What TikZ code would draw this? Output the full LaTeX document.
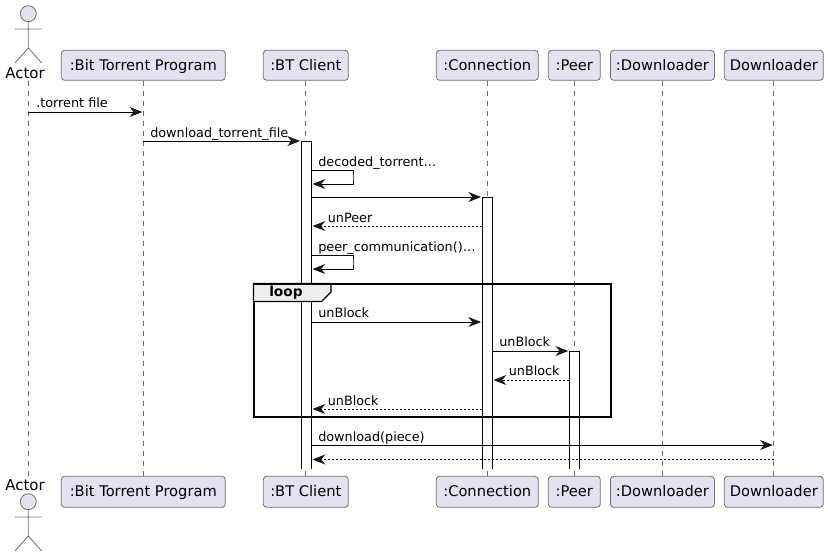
\documentclass[tikz,border=0pt]{standalone}
\usepackage{fontspec}
\setmainfont{DejaVu Sans}
\usetikzlibrary{arrows.meta}
\definecolor{partfill}{HTML}{E2E2F0}
\definecolor{inkdark}{HTML}{181818}
\definecolor{inkgray}{HTML}{6E6E6E}
\definecolor{tabfill}{HTML}{EEEEEE}
\tikzset{
  partbox/.style={draw=inkgray,line width=0.6pt,fill=partfill,rounded corners=2.5pt,inner sep=0pt,
    minimum height=22.5pt,text height=8pt,text depth=0.25pt,font=\fontsize{11}{12}\selectfont,text=black},
  actorname/.style={inner sep=0pt,font=\fontsize{11.2}{12}\selectfont,text=black},
  lifeline/.style={draw=inkgray,line width=0.55pt,dash pattern=on 3.75pt off 3.75pt},
  actbar/.style={fill=white,inner sep=0pt,minimum width=7.5pt},
  barside/.style={draw=black,line width=0.75pt},
  msg/.style={draw=black,line width=0.75pt,shorten >=0.75pt,
    -{Stealth[length=9.5pt,width=7.5pt,inset=3pt,color=inkdark]}},
  backmsg/.style={msg,dash pattern=on 1.5pt off 1.5pt},
  msglabel/.style={anchor=base west,inner sep=0pt,font=\fontsize{9.6}{12}\selectfont,text=black},
  actorline/.style={draw=inkgray,line width=0.6pt},
}
\begin{document}
\begin{tikzpicture}[x=0.75pt,y=0.75pt,yscale=-1,xscale=1]
\useasboundingbox (0,0) rectangle (828,557);

% participants, top row
\node [actorname] (actortop) at (25,73) {Actor};
\node [partbox,minimum width=123pt] (programtop) at (143.3,65.3) {:Bit Torrent Program};
\node [partbox,minimum width=63.75pt] (clienttop) at (305.8,65.3) {:BT Client};
\node [partbox,minimum width=76.5pt] (conntop) at (487.3,65.3) {:Connection};
\node [partbox,minimum width=39pt] (peertop) at (574.3,65.3) {:Peer};
\node [partbox,minimum width=78pt] (loadtop) at (662.4,65.3) {:Downloader};
\node [partbox,minimum width=74.25pt] (loadertop) at (773.8,65.3) {Downloader};

% participants, bottom row
\node [actorname] (actorbot) at (25,485) {Actor};
\node [partbox,minimum width=123pt,minimum height=23.25pt] (programbot) at (143.3,491.8) {:Bit Torrent Program};
\node [partbox,minimum width=63.75pt,minimum height=23.25pt] (clientbot) at (305.8,491.8) {:BT Client};
\node [partbox,minimum width=76.5pt,minimum height=23.25pt] (connbot) at (487.3,491.8) {:Connection};
\node [partbox,minimum width=39pt,minimum height=23.25pt] (peerbot) at (574.3,491.8) {:Peer};
\node [partbox,minimum width=78pt,minimum height=23.25pt] (loadbot) at (662.4,491.8) {:Downloader};
\node [partbox,minimum width=74.25pt,minimum height=23.25pt] (loaderbot) at (773.8,491.8) {Downloader};

% actor figures
\draw [actorline,fill=partfill] (28.3,13.7) circle (8);
\draw [actorline] (28.3,21.7) -- (28.3,48) (15,29) -- (41.7,29) (15,63) -- (28.3,48) -- (41.7,63);
\draw [actorline,fill=partfill] (28.3,501.7) circle (8);
\draw [actorline] (28.3,509.7) -- (28.3,536) (15,517) -- (41.7,517) (15,551) -- (28.3,536) -- (41.7,551);

% lifelines
\coordinate (actorup) at (28.3,81);
\coordinate (actordown) at (28.3,476.5);
\draw [lifeline] (actorup) -- (actordown);
\draw [lifeline] (programtop.south) -- (programbot.north);
\draw [lifeline] ([xshift=-0.4pt]clienttop.south) -- ([xshift=-0.4pt]clientbot.north);
\draw [lifeline] (conntop.south) -- (connbot.north);
\draw [lifeline] (peertop.south) -- (peerbot.north);
\draw [lifeline] (loadtop.south) -- (loadbot.north);
\draw [lifeline] (loadertop.south) -- (loaderbot.north);

% activation bars, open at the bottom
\node [actbar,minimum height=245.6pt] (clientbar) at (306.3,305.3) {};
\node [actbar,minimum height=203.6pt] (connbar) at (487.3,333.3) {};
\node [actbar,minimum height=88.1pt] (peerbar) at (574.5,410.3) {};
\draw [barside] (clientbar.south west) -- (clientbar.north west) -- (clientbar.north east) -- (clientbar.south east);
\draw [barside] (connbar.south west) -- (connbar.north west) -- (connbar.north east) -- (connbar.south east);
\draw [barside] (peerbar.south west) -- (peerbar.north west) -- (peerbar.north east) -- (peerbar.south east);

% loop frame
\coordinate (framea) at (253.5,283.5);
\coordinate (frameb) at (610.5,417);
\draw [draw=black,line width=1.5pt] (framea) rectangle (frameb);
\coordinate (tabend) at (331,292);
\draw [draw=black,line width=1pt,fill=tabfill] (framea) -| (tabend) -- (321.5,301.5) -- (253.5,301.5) -- cycle;
\draw [draw=black,line width=1.5pt] (framea) -- (frameb |- framea);
\node [anchor=base west,inner sep=0pt,font=\fontsize{10.3}{12}\selectfont\bfseries] (looplabel) at (269,296.7) {loop};

% messages
\draw [msg] (actorup |- 0,112) -- (programtop.south |- 0,112);
\node [msglabel] (torrentlabel) at (36,107.5) {.torrent file};

\draw [msg] (programtop.south |- 0,141) -- (clientbar.west |- 0,141);
\node [msglabel] (downloadlabel) at (150,137) {download\_torrent\_file};

\coordinate (selfa) at (353,177);
\draw [msg] (clientbar.east |- 0,170) -| (selfa) |- (clientbar.east |- 0,184);
\node [msglabel] (decodedlabel) at (318,166) {decoded\_torrent…};

\draw [msg] (clientbar.east |- 0,197) -- (connbar.west |- 0,197);

\draw [backmsg] (connbar.west |- 0,226) -- (clientbar.east |- 0,226);
\node [msglabel] (unpeerlabel) at (327.5,222) {unPeer};

\coordinate (selfb) at (353,262);
\draw [msg] (clientbar.east |- 0,255) -| (selfb) |- (clientbar.east |- 0,269);
\node [msglabel] (communlabel) at (318,251) {peer\_communication()…};

\draw [msg] (clientbar.east |- 0,322) -- (connbar.west |- 0,322);
\node [msglabel] (blocklabela) at (318,317.5) {unBlock};

\draw [msg] (connbar.east |- 0,351) -- (peerbar.west |- 0,351);
\node [msglabel] (blocklabelb) at (499,346.5) {unBlock};

\draw [backmsg] (peerbar.west |- 0,380) -- (connbar.east |- 0,380);
\node [msglabel] (blocklabelc) at (508.5,375.5) {unBlock};

\draw [backmsg] (connbar.west |- 0,409) -- (clientbar.east |- 0,409);
\node [msglabel] (blocklabeld) at (327.5,405) {unBlock};

\draw [msg] (clientbar.east |- 0,445) -- (loadertop.south |- 0,445);
\node [msglabel] (piecelabel) at (318,441) {download(piece)};

\draw [backmsg] (loadertop.south |- 0,459.5) -- (clientbar.east |- 0,459.5);

\end{tikzpicture}
\end{document}
